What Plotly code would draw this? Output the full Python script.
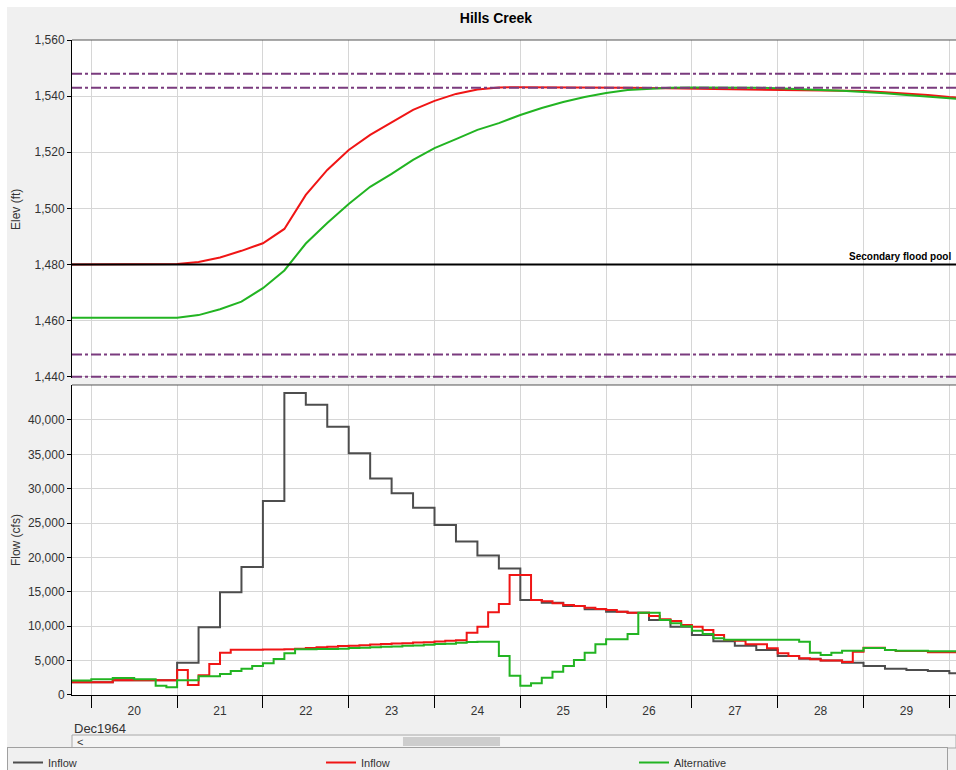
import pandas as pd
import plotly.graph_objects as go
from plotly.subplots import make_subplots

# time steps
t3 = pd.date_range("1964-12-19 18:00", "1964-12-30 06:00", freq="3h")
t6 = pd.date_range("1964-12-19 18:00", "1964-12-30 06:00", freq="6h")

# flow (cfs), 6-hourly inflow
inflow_obs = [
    1840,
    1840, 2130, 2130, 2130,
    4700, 9840, 14930, 18600,
    28200, 43940, 42200, 39000,
    35170, 31500, 29360, 27220,
    24710, 22340, 20300, 18400,
    13820, 13430, 12950, 12460,
    12120, 11970, 10910, 9940,
    8730, 7800, 7180, 6550,
    5670, 5280, 5000, 4700,
    4220, 3830, 3640, 3490,
    3150, 3150,
]

# flow (cfs), 3-hourly
inflow_sim = [
    1840, 1840,
    1840, 1840, 2130, 2130, 2130, 2130, 2130, 2130,
    3640, 1450, 2860, 4510, 6160, 6590, 6590, 6590,
    6600, 6620, 6640, 6730, 6830, 6930, 7020, 7110,
    7160, 7250, 7350, 7400, 7490, 7540, 7640, 7690,
    7780, 7900, 7950, 9060, 9940, 12030, 13240, 17450,
    17450, 13820, 13620, 13330, 13090, 12950, 12700, 12510,
    12360, 12120, 11970, 11970, 11490, 11010, 10760, 10180,
    9940, 9450, 8730, 8000, 7900, 7370, 7370, 6790,
    6060, 5670, 5330, 5190, 5000, 5000, 4800, 6300,
    6890, 6890, 6550, 6400, 6400, 6400, 6210, 6210,
    6210, 6210, 6210,
]
alternative = [
    2100, 2100,
    2280, 2280, 2470, 2470, 2280, 2280, 1360, 1120,
    2130, 2130, 2710, 2710, 3050, 3490, 3830, 4220,
    4610, 5240, 6060, 6640, 6640, 6690, 6690, 6740,
    6830, 6880, 6930, 7020, 7070, 7160, 7210, 7300,
    7400, 7450, 7600, 7700, 7750, 7750, 5670, 2810,
    1360, 1700, 2520, 3390, 4220, 5090, 6160, 7370,
    8100, 8100, 8870, 11970, 11970, 10910, 10420, 10000,
    9360, 8870, 8240, 8050, 8050, 8050, 8050, 8050,
    8050, 8050, 7760, 6160, 5820, 6160, 6450, 6450,
    6840, 6840, 6550, 6450, 6450, 6450, 6350, 6350,
    6350, 6350, 6350,
]

# pool elevation (ft), 6-hourly
elev_inflow = [
    1480.0,
    1480.0, 1480.0, 1480.0, 1480.0,
    1480.2, 1480.9, 1482.5, 1484.9,
    1487.6, 1492.7, 1504.8, 1513.7,
    1520.8, 1526.2, 1530.8, 1535.1,
    1538.3, 1540.8, 1542.4, 1543.1,
    1543.2, 1543.2, 1543.1, 1543.1,
    1543.0, 1543.0, 1542.9, 1542.8,
    1542.6, 1542.5, 1542.4, 1542.4,
    1542.3, 1542.2, 1542.1, 1542.0,
    1541.8, 1541.4, 1541.0, 1540.4,
    1539.7, 1539.2,
]
elev_alt = [
    1461.1,
    1461.1, 1461.1, 1460.9, 1460.9,
    1461.1, 1462.0, 1464.1, 1466.8,
    1471.6, 1477.9, 1487.5, 1494.8,
    1501.6, 1507.7, 1512.3, 1517.3,
    1521.5, 1524.7, 1528.0, 1530.4,
    1533.3, 1535.8, 1537.9, 1539.7,
    1541.1, 1542.2, 1542.7, 1543.0,
    1543.1, 1543.1, 1543.0, 1543.0,
    1542.8, 1542.6, 1542.2, 1541.9,
    1541.5, 1541.0, 1540.4, 1539.8,
    1539.2, 1538.7,
]

guide_levels = [1548, 1543, 1448, 1440]
flood_pool = 1480
flow_ticks = [0, 5000, 10000, 15000, 20000, 25000, 30000, 35000, 40000]

x_range = ["1964-12-19 18:36", "1964-12-30 01:52"]
FONT = "Liberation Sans, Arial, sans-serif"
GREY = "#4d4d4d"
RED = "#f01515"
GREEN = "#22b422"
PURPLE = "#7a3b7e"

fig = make_subplots(rows=2, cols=1, shared_xaxes=True)

fig.add_trace(go.Scatter(x=t6, y=elev_inflow, mode="lines", line=dict(color=RED, width=2),
                         showlegend=False), row=1, col=1)
fig.add_trace(go.Scatter(x=t6, y=elev_alt, mode="lines", line=dict(color=GREEN, width=2),
                         showlegend=False), row=1, col=1)

fig.add_trace(go.Scatter(x=t6, y=inflow_obs, name="Inflow", mode="lines", line_shape="hv",
                         line=dict(color=GREY, width=2)), row=2, col=1)
fig.add_trace(go.Scatter(x=t3, y=inflow_sim, name="Inflow", mode="lines", line_shape="hv",
                         line=dict(color=RED, width=2)), row=2, col=1)
fig.add_trace(go.Scatter(x=t3, y=alternative, name="Alternative", mode="lines", line_shape="hv",
                         line=dict(color=GREEN, width=2)), row=2, col=1)

for lvl in guide_levels:
    fig.add_hline(y=lvl, line=dict(color=PURPLE, width=2, dash="10px,3px,3px,3px"), row=1, col=1)
fig.add_hline(y=flood_pool, line=dict(color="black", width=2), row=1, col=1)

fig.add_annotation(x=0.9966, xref="paper", y=flood_pool, yref="y", text="<b>Secondary flood pool</b>",
                   showarrow=False, xanchor="right", yanchor="bottom", yshift=1,
                   font=dict(size=10, color="black", family=FONT))

top_dom = [0.484, 1.0]
bot_dom = [0.0, 0.4733]

grid = "#d6d6d6"
xcommon = dict(range=x_range, type="date", dtick=86400000, tick0="1964-12-20",
               showgrid=True, gridcolor=grid, gridwidth=1, zeroline=False)
fig.update_xaxes(**xcommon)
fig.update_xaxes(showticklabels=False, ticks="", row=1, col=1)
fig.update_xaxes(ticks="outside", ticklen=12, tickcolor="black", tickwidth=1,
                 ticklabelmode="period", tickformat="%d", ticklabelstandoff=-7,
                 showline=True, linecolor="black", linewidth=1,
                 tickfont=dict(size=12, color="#333", family=FONT), row=2, col=1)

ycommon = dict(showgrid=True, gridcolor=grid, gridwidth=1, zeroline=False,
               showline=True, linecolor="black", linewidth=1,
               ticks="outside", ticklen=4, tickcolor="black",
               tickfont=dict(size=12, color="#333", family=FONT), tickformat=",d")
fig.update_yaxes(**ycommon)
fig.update_yaxes(range=[1439.6, 1560], dtick=20, domain=top_dom, row=1, col=1)
fig.update_yaxes(range=[0, 45090], tickmode="array", tickvals=flow_ticks, domain=bot_dom, row=2, col=1)

# frame lines at the top of each panel
for d in (top_dom, bot_dom):
    fig.add_shape(type="line", xref="paper", yref="paper", x0=0, x1=1, y0=d[1], y1=d[1],
                  line=dict(color="#555", width=1))

# white window border at top and left, as in the screenshot
fig.add_shape(type="rect", xref="paper", yref="paper", x0=-0.0814, x1=1.0, y0=1.0504, y1=1.0611,
              line=dict(width=0), fillcolor="white")
fig.add_shape(type="rect", xref="paper", yref="paper", x0=-0.0814, x1=-0.0735, y0=-0.1145, y1=1.0611,
              line=dict(width=0), fillcolor="white")

# scrollbar under the time axis
fig.add_shape(type="rect", xref="paper", yref="paper", x0=0, x1=1.0, y0=-0.0809, y1=-0.0611,
              line=dict(color="#a8a8a8", width=1), fillcolor="#f4f4f4", layer="below")
fig.add_shape(type="rect", xref="paper", yref="paper", x0=0.3744, x1=0.4842, y0=-0.0778, y1=-0.0642,
              line=dict(width=0), fillcolor="#cdcdcd")
fig.add_annotation(x=0.003, xref="paper", y=-0.071, yref="paper", text="<", showarrow=False,
                   xanchor="left", yanchor="middle", font=dict(size=11, color="#333", family=FONT))

fig.add_annotation(x=0, xref="paper", y=-0.0504, yref="paper", text="Dec1964", showarrow=False,
                   xanchor="left", yanchor="middle", font=dict(size=13, color="#333", family=FONT))

fig.add_annotation(x=-0.0633, xref="paper", y=0.7405, yref="paper", text="Elev (ft)", showarrow=False,
                   textangle=-90, xanchor="center", yanchor="middle",
                   font=dict(size=12, color="#333", family=FONT))
fig.add_annotation(x=-0.0633, xref="paper", y=0.2366, yref="paper", text="Flow (cfs)", showarrow=False,
                   textangle=-90, xanchor="center", yanchor="middle",
                   font=dict(size=12, color="#333", family=FONT))

fig.update_layout(
    width=956, height=770,
    margin=dict(l=72, r=0, t=40, b=75, autoexpand=False),
    paper_bgcolor="#f0f0f0",
    plot_bgcolor="white",
    font=dict(family=FONT, color="#333"),
    title=dict(text="<b>Hills Creek</b>", x=0.5188, xanchor="center", y=0.9766, yanchor="middle",
               font=dict(size=14, color="black", family=FONT)),
    showlegend=True,
    legend=dict(orientation="h", x=-0.0735, y=-0.0794, xanchor="left", yanchor="top",
                entrywidth=268, entrywidthmode="pixels", itemwidth=30,
                bgcolor="#f0f0f0", bordercolor="#a0a0a0", borderwidth=1,
                font=dict(size=11, color="#333", family=FONT)),
)

# the figure fills the whole window
fig.write_html("out.html", config={"displayModeBar": False},
               post_script="document.body.style.margin='0';")
